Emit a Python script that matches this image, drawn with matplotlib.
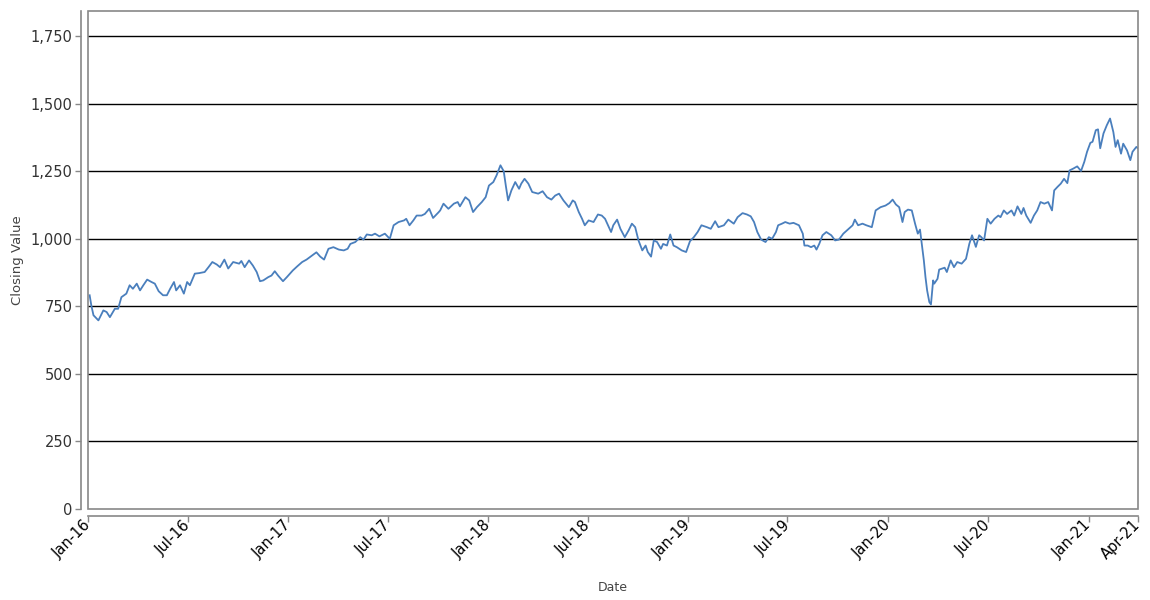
import matplotlib
matplotlib.use("Agg")
import matplotlib.pyplot as plt
import matplotlib.dates as mdates
from matplotlib.patches import Rectangle
from matplotlib.ticker import FuncFormatter
import pandas as pd

dates = [
    "2016-01-04", "2016-01-07", "2016-01-11", "2016-01-20", "2016-01-29", "2016-02-04", "2016-02-10",
    "2016-02-19", "2016-02-25", "2016-03-02", "2016-03-11", "2016-03-17", "2016-03-23", "2016-03-30",
    "2016-04-05", "2016-04-11", "2016-04-18", "2016-04-26", "2016-05-02", "2016-05-09", "2016-05-17",
    "2016-05-24", "2016-05-30", "2016-06-06", "2016-06-10", "2016-06-17", "2016-06-24", "2016-06-30",
    "2016-07-05", "2016-07-14", "2016-07-22", "2016-08-01", "2016-08-08", "2016-08-15", "2016-08-23",
    "2016-08-29", "2016-09-06", "2016-09-13", "2016-09-22", "2016-10-03", "2016-10-07", "2016-10-13",
    "2016-10-21", "2016-10-28", "2016-11-04", "2016-11-10", "2016-11-16", "2016-11-25", "2016-12-01",
    "2016-12-07", "2016-12-13", "2016-12-22", "2016-12-29",
    "2017-01-09", "2017-01-17", "2017-01-26", "2017-02-03", "2017-02-13", "2017-02-21", "2017-02-28",
    "2017-03-07", "2017-03-15", "2017-03-24", "2017-04-03", "2017-04-12", "2017-04-19", "2017-04-24",
    "2017-05-03", "2017-05-12", "2017-05-18", "2017-05-24", "2017-06-02", "2017-06-08", "2017-06-16",
    "2017-06-26", "2017-07-05", "2017-07-12", "2017-07-21", "2017-07-31", "2017-08-04", "2017-08-10",
    "2017-08-17", "2017-08-23", "2017-09-01", "2017-09-07", "2017-09-15", "2017-09-22", "2017-10-02",
    "2017-10-05", "2017-10-11", "2017-10-20", "2017-10-30", "2017-11-06", "2017-11-10", "2017-11-20",
    "2017-11-27", "2017-12-04", "2017-12-11", "2017-12-20", "2017-12-27",
    "2018-01-02", "2018-01-10", "2018-01-16", "2018-01-23", "2018-01-29", "2018-02-02", "2018-02-06",
    "2018-02-12", "2018-02-19", "2018-02-26", "2018-03-02", "2018-03-08", "2018-03-15", "2018-03-22",
    "2018-04-02", "2018-04-10", "2018-04-18", "2018-04-26", "2018-05-03", "2018-05-10", "2018-05-18",
    "2018-05-28", "2018-06-04", "2018-06-08", "2018-06-15", "2018-06-21", "2018-06-26", "2018-07-03",
    "2018-07-12", "2018-07-20", "2018-07-27", "2018-08-02", "2018-08-13", "2018-08-17", "2018-08-24",
    "2018-08-30", "2018-09-07", "2018-09-14", "2018-09-20", "2018-09-26", "2018-10-02", "2018-10-09",
    "2018-10-15", "2018-10-19", "2018-10-25", "2018-10-30", "2018-11-05", "2018-11-12", "2018-11-16",
    "2018-11-23", "2018-11-29", "2018-12-05", "2018-12-11", "2018-12-20", "2018-12-28",
    "2019-01-04", "2019-01-11", "2019-01-18", "2019-01-25", "2019-02-04", "2019-02-11", "2019-02-19",
    "2019-02-25", "2019-03-07", "2019-03-15", "2019-03-25", "2019-04-01", "2019-04-10", "2019-04-18",
    "2019-04-25", "2019-05-01", "2019-05-07", "2019-05-14", "2019-05-22", "2019-05-28", "2019-06-03",
    "2019-06-10", "2019-06-14", "2019-06-21", "2019-06-27", "2019-07-05", "2019-07-12", "2019-07-22",
    "2019-07-29", "2019-08-01", "2019-08-07", "2019-08-13", "2019-08-19", "2019-08-23", "2019-08-28",
    "2019-09-03", "2019-09-10", "2019-09-19", "2019-09-26", "2019-10-03", "2019-10-11", "2019-10-21",
    "2019-10-28", "2019-11-01", "2019-11-07", "2019-11-15", "2019-11-22", "2019-12-02", "2019-12-09",
    "2019-12-18", "2019-12-27",
    "2020-01-03", "2020-01-09", "2020-01-15", "2020-01-21", "2020-01-27", "2020-01-31", "2020-02-06",
    "2020-02-13", "2020-02-19", "2020-02-24", "2020-02-28", "2020-03-03", "2020-03-06", "2020-03-09",
    "2020-03-12", "2020-03-16", "2020-03-19", "2020-03-23", "2020-03-25", "2020-03-31", "2020-04-03",
    "2020-04-13", "2020-04-17", "2020-04-24", "2020-04-30", "2020-05-06", "2020-05-14", "2020-05-22",
    "2020-05-28", "2020-06-02", "2020-06-09", "2020-06-15", "2020-06-19", "2020-06-24", "2020-06-30",
    "2020-07-06", "2020-07-13", "2020-07-20", "2020-07-24", "2020-07-30", "2020-08-05", "2020-08-13",
    "2020-08-18", "2020-08-24", "2020-08-31", "2020-09-04", "2020-09-09", "2020-09-17", "2020-09-23",
    "2020-09-29", "2020-10-05", "2020-10-12", "2020-10-19", "2020-10-26", "2020-10-30", "2020-11-05",
    "2020-11-11", "2020-11-17", "2020-11-23", "2020-11-27", "2020-12-04", "2020-12-11", "2020-12-18",
    "2020-12-24", "2020-12-29",
    "2021-01-04", "2021-01-08", "2021-01-14", "2021-01-18", "2021-01-22", "2021-01-28", "2021-02-03",
    "2021-02-09", "2021-02-15", "2021-02-19", "2021-02-23", "2021-03-01", "2021-03-05", "2021-03-12",
    "2021-03-18", "2021-03-22", "2021-03-29", "2021-04-01",
]

values = [
    791, 754, 717, 698, 735, 729, 710,
    741, 741, 784, 797, 828, 815, 834,
    809, 828, 849, 840, 834, 806, 791,
    791, 815, 840, 809, 828, 797, 840,
    828, 871, 873, 877, 895, 914, 905,
    895, 923, 890, 914, 908, 918, 895,
    920, 901, 877, 843, 846, 858, 864,
    880, 864, 843, 858,
    883, 898, 914, 923, 938, 950, 934,
    923, 963, 969, 960, 957, 963, 981,
    988, 1006, 997, 1016, 1013, 1019, 1009,
    1019, 1000, 1050, 1062, 1068, 1074, 1050,
    1068, 1086, 1086, 1092, 1111, 1077, 1098,
    1105, 1130, 1111, 1130, 1136, 1120, 1154,
    1142, 1099, 1117, 1136, 1154,
    1197, 1210, 1235, 1272, 1250, 1194, 1142,
    1179, 1210, 1185, 1204, 1222, 1204, 1173,
    1167, 1176, 1154, 1145, 1160, 1167, 1142,
    1117, 1142, 1136, 1099, 1074, 1050, 1068,
    1062, 1090, 1086, 1074, 1025, 1050, 1071,
    1037, 1006, 1031, 1056, 1043, 994, 957,
    975, 951, 934, 994, 988, 963, 981,
    975, 1016, 975, 969, 957, 951,
    991, 1006, 1025, 1050, 1043, 1037, 1065,
    1043, 1050, 1071, 1056, 1080, 1095, 1090,
    1083, 1062, 1025, 997, 988, 1006, 1000,
    1025, 1050, 1056, 1062, 1056, 1059, 1050,
    1019, 975, 975, 969, 975, 960, 981,
    1013, 1025, 1013, 994, 997, 1019, 1037,
    1050, 1071, 1050, 1056, 1050, 1043, 1105,
    1117, 1123,
    1132, 1145, 1127, 1117, 1062, 1099, 1108,
    1105, 1056, 1019, 1034, 969, 920, 858,
    809, 766, 757, 846, 834, 852, 886,
    893, 877, 920, 895, 914, 908, 926,
    981, 1013, 970, 1013, 1006, 994, 1074,
    1056, 1074, 1086, 1080, 1105, 1092, 1105,
    1086, 1120, 1092, 1114, 1086, 1059, 1086,
    1105, 1136, 1130, 1136, 1105, 1179, 1192,
    1204, 1222, 1206, 1253, 1260, 1268, 1251,
    1285, 1322,
    1355, 1359, 1402, 1405, 1335, 1390, 1420,
    1445, 1395, 1340, 1365, 1315, 1352, 1327,
    1291, 1322, 1340, 1335,
]

tick_dates = ["2016-01-01", "2016-07-01", "2017-01-01", "2017-07-01", "2018-01-01",
              "2018-07-01", "2019-01-01", "2019-07-01", "2020-01-01", "2020-07-01",
              "2021-01-01", "2021-04-01"]
y_ticks = [0, 250, 500, 750, 1000, 1250, 1500, 1750]
y_max = 1843

x = pd.to_datetime(dates)
xt = pd.to_datetime(tick_dates)

fig = plt.figure(figsize=(11.5, 6), dpi=100)
ax = fig.add_axes([88 / 1150, 1 - 509 / 600, 1050 / 1150, 498 / 600])

for yv in y_ticks[1:]:
    ax.axhline(yv, color="black", lw=1.0, zorder=1)

ax.plot(x, values, color="#4a7fbd", lw=1.3, zorder=3)

ax.set_xlim(xt[0], xt[-1])
ax.set_ylim(0, y_max)
ax.set_xticks(xt)
ax.xaxis.set_major_formatter(mdates.DateFormatter("%b-%y"))
ax.set_yticks(y_ticks)
ax.yaxis.set_major_formatter(FuncFormatter(lambda v, p: f"{int(v):,}"))

for s in ["top", "right"]:
    ax.spines[s].set_visible(False)
for s in ["left", "bottom"]:
    ax.spines[s].set_position(("outward", 5))
    ax.spines[s].set_color("#888888")
    ax.spines[s].set_linewidth(1.2)

ax.add_patch(Rectangle((0, 0), 1, 1, transform=ax.transAxes, fill=False,
                       edgecolor="#888888", lw=1.2, clip_on=False, zorder=4))

ax.tick_params(axis="y", length=4, width=1, color="#888888", labelsize=10.5,
               labelcolor="#333333", pad=2)
ax.tick_params(axis="x", length=4, width=1, color="#888888", labelsize=10.5,
               labelcolor="black", pad=1)
for lab in ax.get_xticklabels():
    lab.set_rotation(45)
    lab.set_ha("right")
    lab.set_va("center")
    lab.set_rotation_mode("anchor")

ax.set_ylabel("Closing Value", fontsize=9.5, color="#444444", labelpad=5)
ax.set_xlabel("Date", fontsize=9, color="#444444", labelpad=13)

fig.savefig("out.png", dpi=100, facecolor="white")
